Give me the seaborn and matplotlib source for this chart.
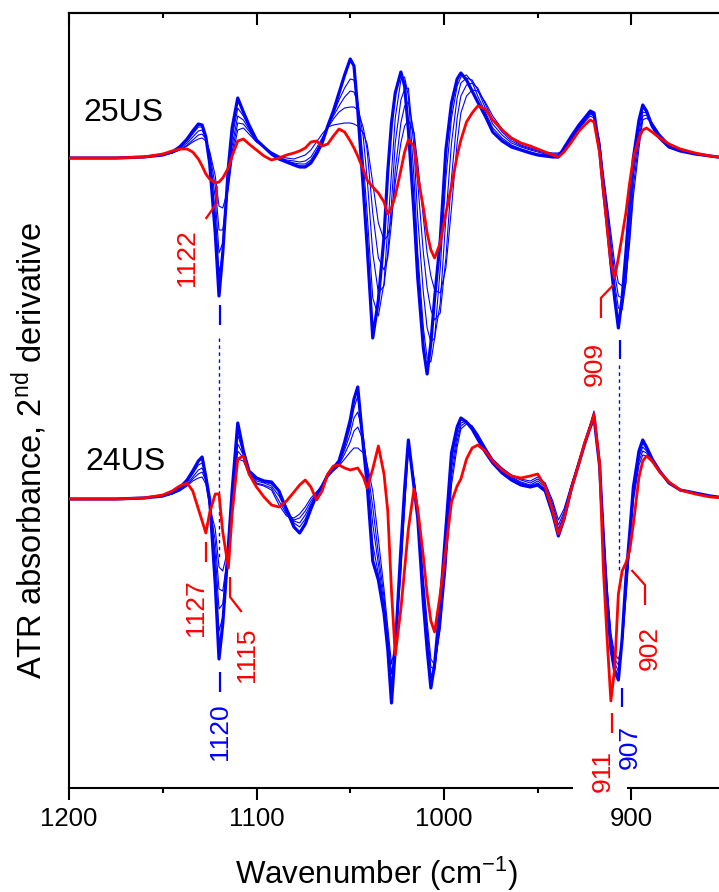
import numpy as np
import pandas as pd
import matplotlib
matplotlib.use("Agg")
import matplotlib.pyplot as plt
import seaborn as sns
from matplotlib.patches import Rectangle

# ---------------- data (2nd-derivative ATR spectra, arbitrary units) ----------------
wavenumber = [1200, 1175, 1160, 1150, 1145, 1141, 1137, 1134, 1131, 1129,
              1127, 1125, 1122, 1120, 1118, 1115, 1113, 1110, 1107, 1104,
              1100, 1096, 1092, 1088, 1084, 1080, 1077, 1074, 1071, 1068,
              1065, 1062, 1059, 1056, 1053, 1050, 1048, 1046, 1043, 1041,
              1038, 1035, 1032, 1030, 1028, 1026, 1023, 1021, 1019, 1016,
              1014, 1011, 1009, 1007, 1005, 1002, 999, 996, 993, 991,
              988, 985, 982, 978, 974, 969, 964, 959, 954, 950,
              946, 942, 939, 936, 932, 928, 925, 922, 920, 917,
              915, 913, 911, 909, 907, 905, 903, 901, 899, 896,
              894, 892, 889, 885, 880, 874, 866, 858, 850]

# ---- 25US ----
us25_final = [0, 0, 1, 3, 6, 11, 19, 27, 34, 33,
              21, -5, -75, -138, -95, -9, 30, 60, 46, 33,
              18, 11, 4, -1, -4, -7, -9, -9, -5, 4,
              15, 32, 47, 65, 83, 99, 92, 48, -32, -88,
              -180, -142, -79, -14, 35, 65, 86, 72, 28, -55,
              -120, -190, -216, -185, -140, -82, 8, 55, 79, 85,
              78, 67, 56, 42, 26, 17, 11, 8, 5, 3,
              2, 1, 1, 10, 22, 33, 40, 47, 45, 8,
              -32, -65, -105, -140, -170, -140, -95, -45, 0, 38,
              53, 47, 32, 20, 11, 7, 4, 2, 0]
us25_t4 = [0, 0, 1, 3, 6, 10, 17, 24, 31, 31,
           21, 0, -55, -115, -95, -20, 20, 50, 42, 31,
           18, 11, 4, -1, -4, -6, -8, -8, -4, 5,
           16, 32, 44, 58, 70, 79, 78, 55, -5, -55,
           -140, -158, -125, -70, -15, 40, 78, 81, 62, -20,
           -95, -170, -200, -204, -180, -110, -20, 40, 72, 81,
           83, 76, 62, 46, 30, 20, 13, 9, 6, 4,
           3, 2, 2, 9, 21, 32, 39, 46, 43, 8,
           -28, -60, -98, -135, -163, -150, -110, -55, -8, 32,
           50, 46, 33, 21, 12, 7, 4, 2, 0]
us25_t3 = [0, 0, 1, 3, 5, 9, 15, 21, 27, 28,
           20, 2, -40, -95, -85, -25, 12, 42, 38, 29,
           17, 11, 5, 0, -3, -5, -6, -6, -2, 7,
           18, 31, 42, 52, 61, 67, 66, 55, 20, -20,
           -95, -135, -128, -95, -45, 15, 58, 69, 70, 10,
           -60, -135, -170, -184, -180, -145, -60, 15, 60, 75,
           80, 78, 68, 50, 34, 23, 15, 11, 8, 6,
           4, 3, 3, 8, 20, 31, 38, 45, 43, 12,
           -24, -55, -90, -125, -150, -152, -125, -70, -18, 25,
           46, 45, 34, 22, 12, 8, 4, 2, 0]
us25_t2 = [0, 0, 1, 3, 5, 8, 13, 18, 23, 24,
           19, 5, -28, -72, -72, -28, 6, 35, 34, 27,
           16, 11, 5, 1, -2, -3, -4, -3, 1, 10,
           20, 30, 39, 46, 50, 51, 51, 48, 30, 8,
           -55, -100, -112, -100, -65, -12, 35, 52, 56, 25,
           -25, -95, -130, -152, -162, -155, -100, -20, 40, 62,
           73, 75, 70, 54, 38, 26, 17, 12, 9, 7,
           5, 4, 4, 8, 19, 30, 37, 44, 42, 15,
           -20, -50, -83, -115, -138, -140, -125, -80, -28, 18,
           42, 43, 35, 23, 13, 8, 4, 2, 0]
us25_t1 = [0, 0, 1, 3, 5, 8, 12, 16, 19, 20,
           17, 7, -18, -48, -50, -30, 0, 28, 30, 24,
           16, 11, 6, 2, 0, -1, 1, 3, 8, 16,
           24, 31, 33, 34, 35, 35, 34, 32, 25, 14,
           -25, -65, -82, -78, -60, -25, 15, 32, 38, 25,
           -5, -60, -95, -118, -132, -135, -110, -50, 15, 45,
           62, 68, 67, 56, 42, 29, 19, 13, 10, 8,
           6, 5, 5, 8, 18, 29, 36, 42, 40, 17,
           -16, -45, -75, -105, -125, -128, -118, -85, -38, 10,
           38, 40, 35, 24, 14, 8, 4, 2, 0]
us25_red = [0, 0, 1, 4, 7, 9, 9, 6, -1, -8,
            -16, -21, -25, -24, -20, -10, 2, 17, 19, 14,
            8, 2, -2, 0, 3, 5, 7, 10, 16, 17,
            12, 14, 22, 29, 26, 17, 10, 2, -12, -22,
            -29, -35, -44, -56, -50, -38, -12, 6, 18, 12,
            -18, -50, -75, -92, -100, -85, -55, -28, 2, 18,
            36, 45, 52, 49, 38, 28, 20, 15, 12, 9,
            6, 3, 1, 6, 16, 27, 33, 38, 36, 5,
            -32, -70, -105, -120, -100, -78, -55, -25, 0, 20,
            28, 30, 26, 20, 14, 9, 5, 2, 0]

# ---- 24US ----
us24_final = [0, 0, 1, 3, 6, 11, 19, 28, 38, 42,
              22, 0, -85, -160, -125, -47, 8, 76, 48, 28,
              21, 18, 17, 8, -11, -28, -34, -25, -10, 4,
              13, 24, 31, 38, 57, 79, 100, 112, 52, 15,
              -62, -81, -114, -150, -204, -150, -50, 10, 59, 12,
              -19, -104, -150, -189, -165, -104, -30, 46, 72, 81,
              77, 70, 60, 47, 36, 26, 19, 14, 12, 14,
              8, -15, -37, -20, 11, 36, 55, 72, 82, 33,
              -38, -104, -150, -172, -181, -140, -80, -35, 12, 48,
              59, 52, 40, 28, 16, 9, 6, 3, 1]
us24_t4 = [0, 0, 1, 3, 6, 10, 17, 25, 34, 36,
           24, -2, -70, -132, -118, -50, 0, 64, 46, 27,
           20, 17, 15, 8, -8, -24, -28, -20, -7, 4,
           13, 24, 30, 36, 52, 72, 91, 103, 60, 22,
           -45, -75, -110, -148, -195, -150, -55, 5, 57, 17,
           -15, -98, -145, -183, -170, -112, -40, 38, 68, 79,
           77, 69, 61, 49, 37, 28, 21, 16, 13, 16,
           10, -10, -33, -18, 12, 37, 56, 74, 86, 36,
           -36, -100, -146, -168, -178, -142, -84, -38, 9, 45,
           56, 50, 40, 28, 16, 9, 6, 3, 1]
us24_t3 = [0, 0, 1, 3, 6, 9, 15, 22, 29, 31,
           21, -4, -55, -110, -105, -52, -5, 55, 44, 27,
           18, 16, 13, 3, -12, -22, -24, -16, -5, 5,
           13, 23, 30, 35, 49, 65, 81, 87, 62, 30,
           -25, -65, -105, -142, -186, -150, -62, 0, 55, 18,
           -12, -92, -138, -176, -172, -120, -50, 30, 63, 76,
           78, 72, 63, 50, 38, 29, 22, 17, 14, 18,
           12, -8, -30, -16, 13, 38, 57, 75, 88, 38,
           -33, -96, -142, -164, -172, -145, -90, -42, 6, 42,
           52, 48, 39, 28, 16, 9, 6, 3, 1]
us24_t2 = [0, 0, 1, 3, 5, 9, 14, 20, 25, 27,
           18, -6, -42, -90, -92, -52, -8, 48, 41, 26,
           16, 14, 11, -2, -15, -21, -19, -12, -2, 6,
           13, 23, 29, 34, 45, 57, 68, 72, 58, 34,
           -8, -55, -98, -135, -175, -148, -68, -5, 53, 19,
           -10, -86, -130, -168, -170, -126, -60, 22, 58, 73,
           77, 73, 64, 51, 39, 30, 23, 19, 16, 20,
           14, -5, -26, -13, 14, 38, 56, 72, 84, 38,
           -30, -92, -138, -160, -166, -146, -96, -46, 2, 38,
           48, 46, 38, 27, 16, 9, 6, 3, 1]
us24_t1 = [0, 0, 1, 3, 5, 8, 13, 18, 21, 22,
           15, -8, -30, -68, -72, -48, -10, 40, 38, 25,
           15, 13, 9, -6, -17, -19, -15, -8, 1, 7,
           13, 22, 28, 33, 40, 47, 51, 51, 46, 35,
           8, -40, -90, -128, -165, -146, -74, -10, 51, 20,
           -8, -80, -122, -160, -166, -130, -70, 14, 52, 70,
           75, 73, 65, 52, 40, 31, 24, 20, 18, 22,
           16, -2, -21, -10, 15, 38, 55, 70, 78, 36,
           -28, -88, -134, -155, -160, -146, -100, -50, -2, 34,
           44, 43, 37, 27, 16, 9, 6, 3, 1]
us24_red = [0, 0, 1, 4, 8, 13, 16, 8, -10, -22,
            -34, -14, 5, 5, -33, -69, -15, 40, 43, 25,
            12, 2, -6, -8, -2, 7, 14, 19, 12, -1,
            8, 25, 33, 34, 31, 29, 30, 31, 22, 11,
            30, 53, 25, -12, -92, -156, -110, -70, -30, 10,
            -10, -58, -95, -122, -133, -95, -50, -3, 13, 20,
            40, 51, 54, 48, 38, 29, 23, 21, 23, 25,
            12, -12, -35, -20, 11, 36, 56, 72, 85, 35,
            -70, -140, -202, -170, -95, -72, -64, -52, -25, 22,
            38, 43, 38, 27, 17, 9, 5, 2, 1]

sample_names = ["25US", "24US"]
sample_offsets = [630, 289]          # vertical stacking offsets
tick_major = [1200, 1100, 1000, 900]
tick_minor = [1150, 1050, 950, 850]

# ---------------- style ----------------
sns.set_style("ticks")
plt.rcParams["font.family"] = ["Liberation Sans", "DejaVu Sans"]
plt.rcParams["mathtext.fontset"] = "custom"
plt.rcParams["mathtext.rm"] = "Liberation Sans"
plt.rcParams["mathtext.it"] = "Liberation Sans:italic"
plt.rcParams["mathtext.bf"] = "Liberation Sans:bold"
for k in ["text.color", "axes.labelcolor", "xtick.color", "ytick.color",
          "xtick.labelcolor", "ytick.labelcolor", "axes.edgecolor"]:
    plt.rcParams[k] = "black"

BLUE = "#0000ff"
RED = "#ff0000"

fig = plt.figure(figsize=(7.19, 8.92), dpi=100)
ax = fig.add_axes([69 / 719, 104 / 892, 656.25 / 719, 775 / 892])

panels = [
    (sample_offsets[0], [us25_t1, us25_t2, us25_t3, us25_t4], us25_final, us25_red),
    (sample_offsets[1], [us24_t1, us24_t2, us24_t3, us24_t4], us24_final, us24_red),
]
rows = []
for (off, thins, final, red), name in zip(panels, sample_names):
    for k, t in enumerate(thins):
        rows.append(pd.DataFrame({"wn": wavenumber, "y": np.array(t) + off,
                                  "curve": f"{name}_t{k+1}", "kind": "thin"}))
    rows.append(pd.DataFrame({"wn": wavenumber, "y": np.array(final) + off,
                              "curve": f"{name}_final", "kind": "final"}))
    rows.append(pd.DataFrame({"wn": wavenumber, "y": np.array(red) + off,
                              "curve": f"{name}_red", "kind": "red"}))
df = pd.concat(rows, ignore_index=True)

style = {"thin": (BLUE, 0.8, 2), "final": (BLUE, 2.3, 3), "red": (RED, 2.0, 4)}
for curve, sub in df.groupby("curve", sort=False):
    c, lw, z = style[sub["kind"].iloc[0]]
    sns.lineplot(data=sub, x="wn", y="y", ax=ax, color=c, linewidth=lw,
                 sort=False, estimator=None, zorder=z,
                 solid_joinstyle="round", solid_capstyle="round")

ax.set_xlim(1200, 850)
ax.set_ylim(0, 775)
ax.set_yticks([])
ax.set_xticks(tick_major)
ax.set_xticks(tick_minor, minor=True)
ax.set_xticklabels([str(t) for t in tick_major], fontsize=18.5, color="black")
ax.tick_params(axis="x", which="major", direction="out", length=8.5, width=1.5, pad=5,
               top=False, color="black")
ax.tick_params(axis="x", which="minor", direction="out", length=3.5, width=1.5, top=False,
               color="black")
for s in ["left", "bottom", "top", "right"]:
    ax.spines[s].set_linewidth(1.5)
    ax.spines[s].set_color("black")

sec = ax.secondary_xaxis("top")
sec.set_xticks(tick_major)
sec.set_xticks(tick_minor, minor=True)
sec.tick_params(axis="x", which="major", direction="in", length=8.5, width=1.5,
                labeltop=False, color="black")
sec.tick_params(axis="x", which="minor", direction="in", length=3.5, width=1.5, color="black")
sec.spines["top"].set_linewidth(1.5)
sec.spines["top"].set_color("black")

ax.set_xlabel("Wavenumber (cm$^{-1}$)", fontsize=22.5, color="black")
ax.xaxis.set_label_coords(0.468, -0.086)
ax.set_ylabel("ATR absorbance, 2$^{\\mathrm{nd}}$ derivative", fontsize=23.5, color="black")
ax.yaxis.set_label_coords(-0.03, 0.435)

# sample labels
ax.text(1192.5, 675, sample_names[0], fontsize=23, ha="left", va="center", color="black")
ax.text(1191.5, 326, sample_names[1], fontsize=23, ha="left", va="center", color="black")

# band annotations
def lead(xs, ys, c):
    ax.plot(xs, ys, color=c, lw=1.6, zorder=6, solid_capstyle="butt", clip_on=False)

def lab(x, y, s, c, **kw):
    ax.text(x, y, s, color=c, fontsize=19, rotation=90, ha="center", va="center",
            zorder=7, **kw)

# 25US
lead([1121.2, 1121.2, 1127.1], [602, 585, 569], RED)
lab(1137.1, 530, "1122", RED)
lead([1119.7, 1119.7], [483, 463], BLUE)
ax.plot([1120.0, 1120.0], [450, 228], color=BLUE, lw=1.0, ls=(0, (2.5, 2.5)), zorder=1)
lead([909.7, 916.3, 916.3], [503, 490, 470], RED)
lab(919.5, 424, "909", RED)
lead([906.1, 906.1], [448, 429], BLUE)
ax.plot([906.7, 906.7], [423, 215], color=BLUE, lw=1.0, ls=(0, (2.5, 2.5)), zorder=1)

# 24US
lead([1126.9, 1126.9], [246, 226], RED)
lab(1132.3, 180, "1127", RED)
lead([1114.1, 1114.1, 1107.9], [211, 191, 176], RED)
lab(1105.1, 133, "1115", RED)
lead([1119.5, 1119.5], [116, 96], BLUE)
lab(1119.5, 56, "1120", BLUE)
lead([910.6, 910.6], [75, 55], RED)
lab(915.2, 17, "911", RED)
lead([905.2, 905.2], [100, 81], BLUE)
lab(900.8, 41, "907", BLUE)
lead([900.0, 892.8, 892.8], [218, 203, 183], RED)
lab(890.1, 140, "902", RED)

# white gap in the bottom axis behind the 911 / 907 labels
ax.add_patch(Rectangle((931.2, -5), 902.4 - 931.2, 10, facecolor="white",
                       edgecolor="none", zorder=5, clip_on=False))

fig.savefig("out.png", dpi=100)
